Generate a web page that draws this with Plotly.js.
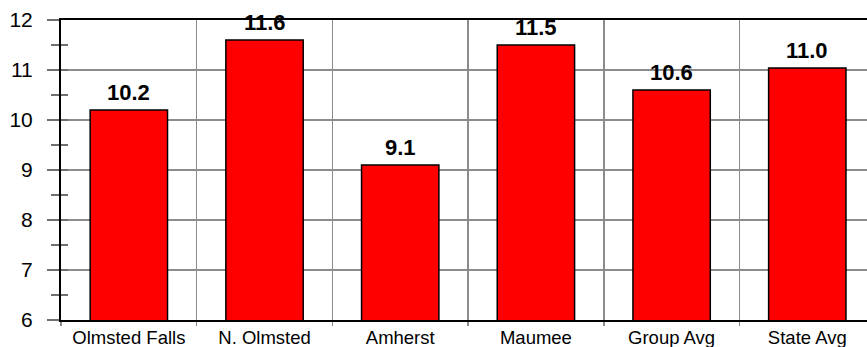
<!DOCTYPE html>
<html>
<head>
<meta charset="utf-8">
<script src="https://cdn.plot.ly/plotly-3.0.1.min.js"></script>
<style>html,body{margin:0;padding:0;background:#fff;}#chart{width:867px;height:347px;}</style>
</head>
<body>
<div id="chart"></div>
<script>
const categories = ["Olmsted Falls", "N. Olmsted", "Amherst", "Maumee", "Group Avg", "State Avg"];
const values = [10.2, 11.6, 9.1, 11.5, 10.6, 11.04];
const yTickVals = [6, 7, 8, 9, 10, 11, 12];

const FONT = "Liberation Sans, Arial, sans-serif";

const bars = {
  type: "bar",
  x: categories,
  y: values,
  width: 0.57,
  marker: {color: "#ff0000", line: {color: "#000000", width: 1.5}},
  hoverinfo: "skip",
  showlegend: false
};

const dummy = {
  type: "scatter",
  mode: "markers",
  x: categories,
  y: values,
  yaxis: "y2",
  marker: {opacity: 0},
  hoverinfo: "skip",
  showlegend: false
};

const annotations = categories.map((c, i) => ({
  x: c,
  y: values[i],
  xref: "x",
  yref: "y",
  text: "<b>" + values[i].toFixed(1) + "</b>",
  showarrow: false,
  yanchor: "bottom",
  yshift: 3,
  font: {family: FONT, size: 22, color: "#000"}
}));

const layout = {
  width: 867,
  height: 347,
  margin: {l: 61, r: 0, t: 20, b: 27, pad: 0},
  paper_bgcolor: "#ffffff",
  plot_bgcolor: "#ffffff",
  bargap: 0.43,
  xaxis: {
    type: "category",
    range: [-0.5, 5.44],
    tickson: "boundaries",
    showgrid: true,
    gridcolor: "#8c8c8c",
    gridwidth: 1.5,
    ticks: "outside",
    ticklen: 4,
    tickcolor: "#8c8c8c",
    tickwidth: 1.5,
    showline: true,
    linecolor: "#000000",
    linewidth: 2,
    mirror: true,
    zeroline: false,
    tickfont: {family: FONT, size: 18.5, color: "#000"},
    fixedrange: true
  },
  yaxis: {
    range: [6, 12],
    tickvals: yTickVals,
    ticktext: yTickVals.map(String),
    showgrid: true,
    gridcolor: "#8c8c8c",
    gridwidth: 1.5,
    ticks: "outside",
    ticklen: 12,
    tickcolor: "#707070",
    tickwidth: 1.5,
    minor: {dtick: 0.5, ticks: "outside", ticklen: 8, tickcolor: "#707070", tickwidth: 1.5, showgrid: false},
    ticklabelstandoff: 10,
    showline: true,
    linecolor: "#000000",
    linewidth: 2,
    zeroline: false,
    tickfont: {family: FONT, size: 21, color: "#000"},
    fixedrange: true
  },
  yaxis2: {
    overlaying: "y",
    range: [6, 12],
    tickvals: yTickVals,
    showticklabels: false,
    showgrid: false,
    zeroline: false,
    showline: false,
    ticks: "inside",
    ticklen: 7,
    tickcolor: "#707070",
    tickwidth: 1.5,
    minor: {dtick: 0.5, ticks: "inside", ticklen: 7, tickcolor: "#707070", tickwidth: 1.5, showgrid: false},
    side: "left",
    fixedrange: true
  },
  annotations: annotations,
  showlegend: false
};

Plotly.newPlot("chart", [bars, dummy], layout, {displayModeBar: false, staticPlot: true});
</script>
</body>
</html>
